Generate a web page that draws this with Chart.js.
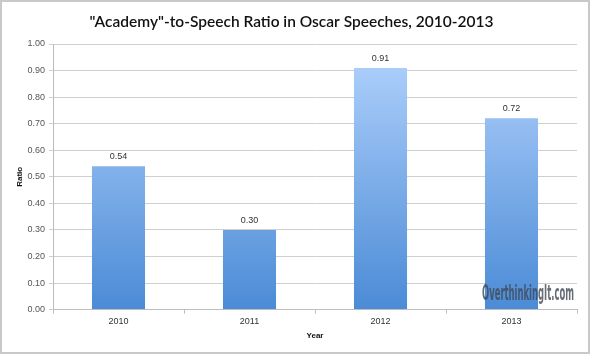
<!DOCTYPE html>
<html><head><meta charset="utf-8">
<script src="https://cdn.jsdelivr.net/npm/chart.js@4/dist/chart.umd.min.js"></script>
<style>
html,body{margin:0;padding:0;background:#fff;}
#wrap{position:absolute;left:0;top:0;width:586px;height:350px;border:2px solid #c9c9c9;background:#fff;}
canvas{display:block;}
</style></head><body>
<div id="wrap"><canvas id="c" width="586" height="350"></canvas></div>
<script>
const categories = ["2010","2011","2012","2013"];
const ratios = [0.54, 0.30, 0.91, 0.72];
const yTicks = [0,0.1,0.2,0.3,0.4,0.5,0.6,0.7,0.8,0.9,1.0];
const titleText = '"Academy"-to-Speech Ratio in Oscar Speeches, 2010-2013';
const watermark = 'OverthinkingIt.com';

const labelPlugin = {
  id:'labels',
  afterDatasetsDraw(chart){
    const ctx = chart.ctx;
    const meta = chart.getDatasetMeta(0);
    ctx.save();
    ctx.font = '9px "Liberation Sans", Arial, sans-serif';
    ctx.fillStyle = '#333';
    ctx.textAlign = 'center';
    ctx.textBaseline = 'bottom';
    meta.data.forEach((el,i)=>{
      ctx.fillText(ratios[i].toFixed(2), el.x, el.y - 5);
    });
    ctx.restore();
  },
  afterDraw(chart){
    const ctx = chart.ctx;
    ctx.save();
    ctx.font = 'bold 21px "DejaVu Sans Condensed", "Liberation Sans Narrow", sans-serif';
    const w = ctx.measureText(watermark).width;
    const targetW = 92;
    ctx.translate(480, 298);
    ctx.scale(targetW / w, 1);
    ctx.fillStyle = 'rgba(65,72,85,0.8)';
    ctx.textBaseline = 'alphabetic';
    ctx.fillText(watermark, 0, 0);
    ctx.restore();
  }
};

new Chart(document.getElementById('c'), {
  type:'bar',
  data:{
    labels: categories,
    datasets:[{
      data: ratios,
      backgroundColor(context){
        const chart = context.chart;
        const area = chart.chartArea;
        if(!area) return '#8ab6ee';
        const g = chart.ctx.createLinearGradient(0, chart.scales.y.getPixelForValue(1), 0, area.bottom);
        g.addColorStop(0, '#b3d3fd');
        g.addColorStop(1, '#4b8bd6');
        return g;
      },
      borderWidth:0,
      categoryPercentage:1.0,
      barPercentage:0.405
    }]
  },
  options:{
    responsive:false,
    animation:false,
    events:[],
    layout:{padding:{left:4,right:11,top:2,bottom:11}},
    plugins:{
      legend:{display:false},
      tooltip:{enabled:false},
      title:{display:true,text:titleText,color:'#111',
        font:{family:'Lato, "Open Sans", sans-serif',size:15.5,weight:600,lineHeight:1.2},
        padding:{top:9,bottom:12.4}}
    },
    scales:{
      y:{
        min:0,max:1,
        afterFit(s){ s.width = 47; },
        afterBuildTicks(s){ s.ticks = yTicks.map(v=>({value:v})); },
        ticks:{callback:v=>Number(v).toFixed(2),color:'#555',font:{family:'"Liberation Sans", Arial, sans-serif',size:9},padding:4},
        grid:{color:'#cfcfcf',lineWidth:1,tickLength:4,drawTicks:true},
        border:{display:true,color:'#bdbdbd'},
        title:{display:true,text:'Ratio',color:'#111',font:{family:'"Liberation Sans", Arial, sans-serif',size:8,weight:'bold',lineHeight:1.2},padding:{top:9,bottom:4}}
      },
      x:{
        offset:true,
        ticks:{color:'#333',font:{family:'"Liberation Sans", Arial, sans-serif',size:9,lineHeight:1.2},padding:2.6},
        grid:{offset:true,drawOnChartArea:false,drawTicks:true,tickLength:4,color:'#bdbdbd'},
        border:{display:true,color:'#bdbdbd'},
        title:{display:true,text:'Year',color:'#111',font:{family:'"Liberation Sans", Arial, sans-serif',size:8,weight:'bold',lineHeight:1.2},padding:{top:1.8,bottom:0}}
      }
    }
  },
  plugins:[labelPlugin]
});
</script>
</body></html>
